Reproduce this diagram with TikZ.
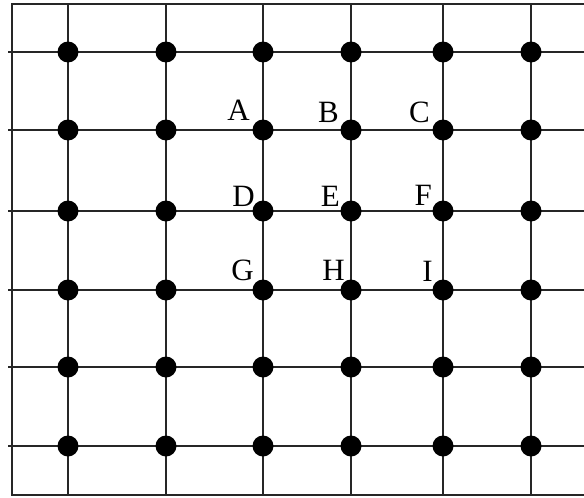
\documentclass[tikz,border=0pt]{standalone}
\usepackage{fontspec}
\setmainfont{Liberation Serif}
\tikzset{
  dot/.style={circle,fill=black,inner sep=0pt,minimum size=21pt},
  lab/.style={inner sep=0pt,font=\fontsize{31}{33}\selectfont},
  gridline/.style={line width=1.3pt,black!85}
}
\begin{document}
\begin{tikzpicture}[x=1pt,y=-1pt]
\useasboundingbox (0,0) rectangle (584,498);
\draw[gridline] (584,4) -- (12,4) -- (12,495) -- (584,495);
\foreach \y in {52,130,211,290,367,446}
  \draw[gridline] (8,\y) -- (584,\y);
\foreach \x in {68,166,263,351,443,531}
  \draw[gridline] (\x,4) -- (\x,495);
\foreach \x [count=\i] in {68,166,263,351,443,531}
  \foreach \y [count=\j] in {52,130,211,290,367,446}
    \node[dot] (d-\i-\j) at (\x,\y) {};
\node[lab,anchor=south east] (A) at ([xshift=-13pt,yshift=9pt]d-3-2.center) {A};
\node[lab,anchor=south east] (B) at ([xshift=-12pt,yshift=7pt]d-4-2.center) {B};
\node[lab,anchor=south east] (C) at ([xshift=-13pt,yshift=7pt]d-5-2.center) {C};
\node[lab,anchor=south east] (D) at ([xshift=-8pt,yshift=4pt]d-3-3.center) {D};
\node[lab,anchor=south east] (E) at ([xshift=-11pt,yshift=4pt]d-4-3.center) {E};
\node[lab,anchor=south east] (F) at ([xshift=-11pt,yshift=5pt]d-5-3.center) {F};
\node[lab,anchor=south east] (G) at ([xshift=-9pt,yshift=9pt]d-3-4.center) {G};
\node[lab,anchor=south east] (H) at ([xshift=-6pt,yshift=9pt]d-4-4.center) {H};
\node[lab,anchor=south east] (I) at ([xshift=-10pt,yshift=8pt]d-5-4.center) {I};
\end{tikzpicture}
\end{document}
